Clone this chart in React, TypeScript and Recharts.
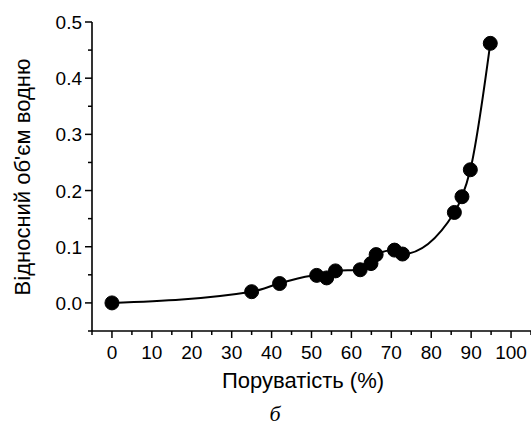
import React from 'react';
import { ComposedChart, Line, XAxis, YAxis } from 'recharts';

// porosity (%) vs relative hydrogen volume
const porosity = [0, 35, 42, 51.3, 53.8, 56, 62.2, 64.9, 66.2, 70.8, 72.8, 85.8, 87.7, 89.8, 94.8];
const volume = [0, 0.02, 0.0345, 0.049, 0.0445, 0.057, 0.059, 0.07, 0.086, 0.094, 0.087, 0.161, 0.189, 0.237, 0.462];

const xTicks = [-5, 0, 5, 10, 15, 20, 25, 30, 35, 40, 45, 50, 55, 60, 65, 70, 75, 80, 85, 90, 95, 100, 105];
const xLabels = [0, 10, 20, 30, 40, 50, 60, 70, 80, 90, 100];
const yTicks = [-0.05, 0, 0.05, 0.1, 0.15, 0.2, 0.25, 0.3, 0.35, 0.4, 0.45, 0.5];
const yLabels = ['0.0', '0.1', '0.2', '0.3', '0.4', '0.5'];

const xTitle = 'Поруватість (%)';
const yTitle = "Відносний об'єм водню";
const caption = 'б';

const data = porosity.map((x, i) => ({ x, y: volume[i] }));

const FONT = '"Liberation Sans", Arial, sans-serif';

const XTick = (props: any) => {
  const { x, y, payload } = props;
  const v = payload.value;
  const major = xLabels.includes(v);
  return (
    <g>
      <line x1={x} x2={x} y1={y} y2={y + (major ? 7 : 4)} stroke="#000" strokeWidth={1.5} />
      {major && (
        <text x={x} y={y + 28} textAnchor="middle" fontSize={19} fontFamily={FONT} fill="#000">
          {v}
        </text>
      )}
    </g>
  );
};

const YTick = (props: any) => {
  const { x, y, payload } = props;
  const v = payload.value;
  const label = v.toFixed(1);
  const major = Math.abs(v * 10 - Math.round(v * 10)) < 1e-6 && yLabels.includes(label);
  return (
    <g>
      <line x1={x - (major ? 7 : 4)} x2={x} y1={y} y2={y} stroke="#000" strokeWidth={1.5} />
      {major && (
        <text x={x - 10} y={y + 7} textAnchor="end" fontSize={19} fontFamily={FONT} fill="#000">
          {label}
        </text>
      )}
    </g>
  );
};

export default function App() {
  return (
    <div style={{ position: 'absolute', left: 0, top: 0, width: 531, height: 425, background: '#fff' }}>
      <ComposedChart width={531} height={425} data={data} margin={{ top: 22, right: 0, left: 0, bottom: 0 }}>
        <XAxis
          type="number"
          dataKey="x"
          domain={[-5, 105]}
          ticks={xTicks}
          interval={0}
          height={94}
          tickSize={0}
          tickMargin={0}
          tick={<XTick />}
          axisLine={{ stroke: '#000', strokeWidth: 1.6 }}
          allowDataOverflow
        />
        <YAxis
          type="number"
          domain={[-0.05, 0.5]}
          ticks={yTicks}
          interval={0}
          width={92}
          tickSize={0}
          tickMargin={0}
          tick={<YTick />}
          axisLine={{ stroke: '#000', strokeWidth: 1.6 }}
          allowDataOverflow
        />
        <Line
          type="monotone"
          dataKey="y"
          stroke="#000"
          strokeWidth={2}
          dot={{ r: 7, fill: '#000', stroke: '#000', strokeWidth: 1 }}
          activeDot={false}
          isAnimationActive={false}
        />
      </ComposedChart>
      <svg width={531} height={425} style={{ position: 'absolute', left: 0, top: 0, pointerEvents: 'none' }}>
        <text x={303} y={388} textAnchor="middle" fontSize={22} fontFamily={FONT} fill="#000">
          {xTitle}
        </text>
        <text
          x={30}
          y={177}
          textAnchor="middle"
          fontSize={22}
          fontFamily={FONT}
          fill="#000"
          transform="rotate(-90 30 177)"
        >
          {yTitle}
        </text>
        <text x={275} y={421} textAnchor="middle" fontSize={22} fontStyle="italic" fontFamily='"Liberation Serif", "Times New Roman", serif' fill="#000">
          {caption}
        </text>
      </svg>
    </div>
  );
}
